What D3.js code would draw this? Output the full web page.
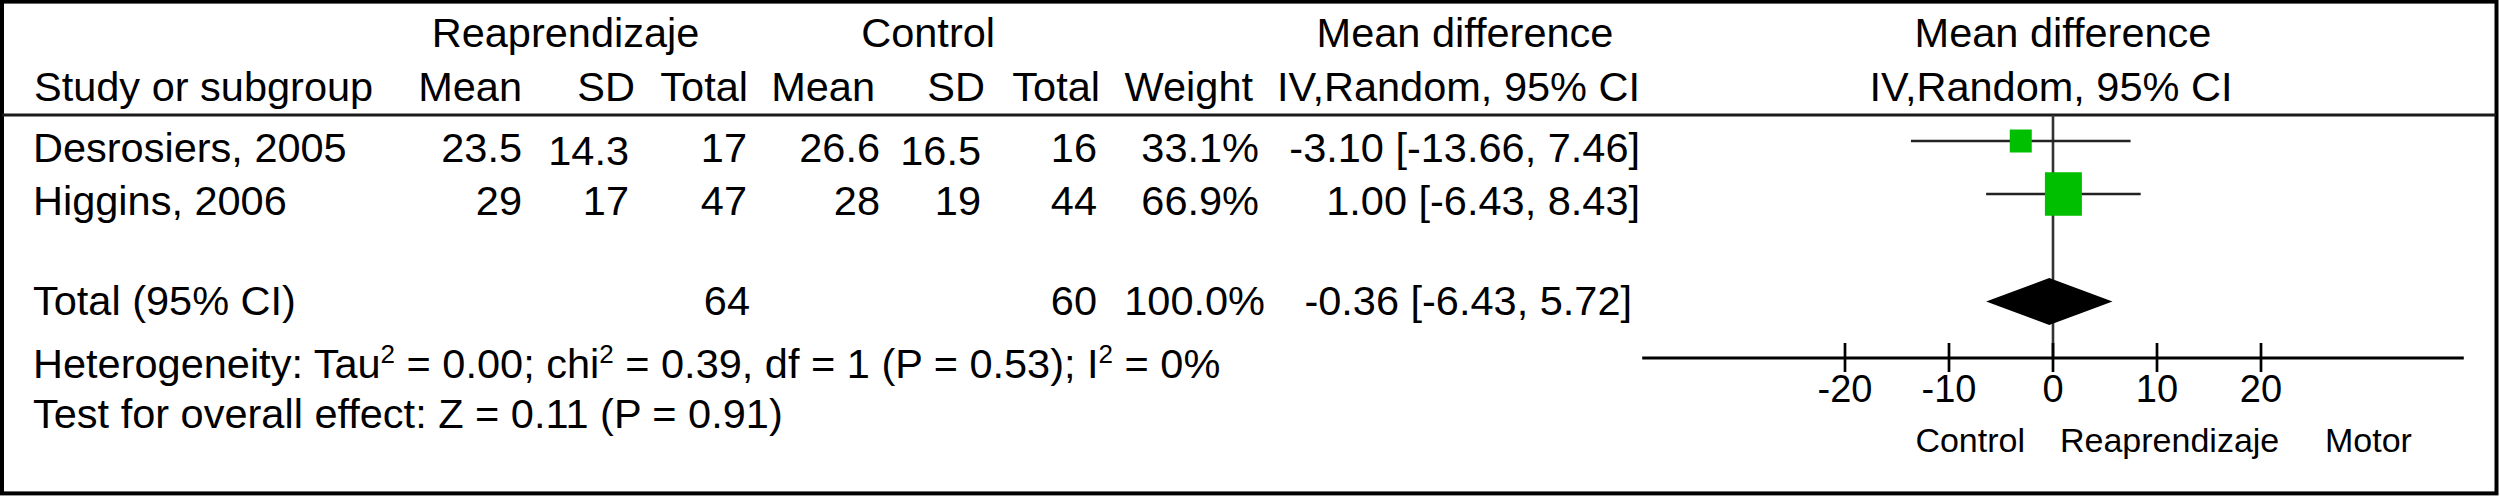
<!DOCTYPE html>
<html><head><meta charset="utf-8">
<script src="https://cdn.jsdelivr.net/npm/d3@7"></script>
<style>
html,body{margin:0;padding:0;background:#fff;}
svg{display:block;}
text{font-family:"Liberation Sans",Arial,Helvetica,sans-serif;fill:#000;}
</style>
</head><body>
<svg id="c" width="2500" height="496"></svg>
<script>
// ---- data ----
const studies   = ["Desrosiers, 2005", "Higgins, 2006"];
const expMean   = [23.5, 29];
const expSD     = [14.3, 17];
const expTotal  = [17, 47];
const ctlMean   = [26.6, 28];
const ctlSD     = [16.5, 19];
const ctlTotal  = [16, 44];
const weights   = [33.1, 66.9];
const md        = [-3.10, 1.00];
const mdLow     = [-13.66, -6.43];
const mdHigh    = [7.46, 8.43];
const totalLabel = "Total (95% CI)";
const totalExp  = [64];
const totalCtl  = [60];
const totalWeight = [100.0];
const totalMD   = [-0.36];
const totalLow  = [-6.43];
const totalHigh = [5.72];
const tickValues = [-20, -10, 0, 10, 20];
const groupHeaders = ["Reaprendizaje", "Control", "Mean difference", "Mean difference"];
const colHeaders = ["Study or subgroup", "Mean", "SD", "Total", "Mean", "SD", "Total", "Weight", "IV,Random, 95% CI", "IV,Random, 95% CI"];
const axisLabels = ["Control", "Reaprendizaje", "Motor"];
const hetParts = [["Heterogeneity: Tau", false], ["2", true], [" = 0.00; chi", false], ["2", true],
  [" = 0.39, df = 1 (P = 0.53); I", false], ["2", true], [" = 0%", false]];
const overallText = "Test for overall effect: Z = 0.11 (P = 0.91)";

// ---- layout ----
const svg = d3.select("#c");
const FS = 41.5;
const f2 = v => v.toFixed(2);
const ciText = (m, l, h) => `${f2(m)} [${f2(l)}, ${f2(h)}]`;

function txt(x, y, s, anchor, size) {
  return svg.append("text").attr("x", x).attr("y", y)
    .attr("text-anchor", anchor || "start")
    .attr("font-size", size || FS).text(s);
}

// outer border
svg.append("rect").attr("x", 2).attr("y", 1.6).attr("width", 2494.5).attr("height", 491.8)
  .attr("fill", "none").attr("stroke", "#000").attr("stroke-width", 4);

// header line
svg.append("line").attr("x1", 2).attr("x2", 2496).attr("y1", 115).attr("y2", 115)
  .attr("stroke", "#1a1a1a").attr("stroke-width", 3);

// header row 1
const h1y = 47;
txt(565.5, h1y, groupHeaders[0], "middle");
txt(995, h1y, groupHeaders[1], "end");
txt(1465, h1y, groupHeaders[2], "middle");
txt(2063, h1y, groupHeaders[3], "middle");

// header row 2
const h2y = 101;
const h2x = [34, 522, 635, 748, 875, 985, 1100, 1253, 1640, 2051];
const h2a = ["start", "end", "end", "end", "end", "end", "end", "end", "end", "middle"];
colHeaders.forEach((s, i) => txt(h2x[i], h2y, s, h2a[i]));

// data rows
const rowY = [162, 215];
const sdDrop = [3, 0];
const colX = {eMean: 522, eSD: 629, eTot: 747, cMean: 880, cSD: 981, cTot: 1097, wt: 1259, ci: 1640};
studies.forEach((s, i) => {
  const y = rowY[i];
  txt(33, y, s, "start");
  txt(colX.eMean, y, String(expMean[i]), "end");
  txt(colX.eSD, y + sdDrop[i], String(expSD[i]), "end");
  txt(colX.eTot, y, String(expTotal[i]), "end");
  txt(colX.cMean, y, String(ctlMean[i]), "end");
  txt(colX.cSD, y + sdDrop[i], String(ctlSD[i]), "end");
  txt(colX.cTot, y, String(ctlTotal[i]), "end");
  txt(colX.wt, y, weights[i].toFixed(1) + "%", "end");
  txt(colX.ci, y, ciText(md[i], mdLow[i], mdHigh[i]), "end");
});

// total row
const totY = 315;
txt(33, totY, totalLabel, "start");
txt(750, totY, String(totalExp[0]), "end");
txt(colX.cTot, totY, String(totalCtl[0]), "end");
txt(1265, totY, totalWeight[0].toFixed(1) + "%", "end");
txt(1632, totY, ciText(totalMD[0], totalLow[0], totalHigh[0]), "end");

// heterogeneity & overall effect
const het = txt(33, 378, "", "start");
hetParts.forEach(([s, sup], i) => {
  const prevSup = i > 0 && hetParts[i - 1][1];
  const t = het.append("tspan").text(s).attr("dy", sup ? -15 : (prevSup ? 15 : 0));
  if (sup) t.attr("font-size", 26);
});
txt(33, 428, overallText, "start");

// ---- forest plot ----
const x = d3.scaleLinear().domain([-40, 40]).range([1637, 2469]);
const wScale = d3.scaleLinear().domain([0, 100]).range([7.3, 51.7]);
const hScale = d3.scaleLinear().domain([0, 100]).range([2.9, 63.6]);
const axisY = 358;
const ciY = rowY.map(y => y - 21);

// zero line
svg.append("line").attr("x1", x(0)).attr("x2", x(0)).attr("y1", 115).attr("y2", axisY)
  .attr("stroke", "#333").attr("stroke-width", 2.6);

// CI lines
svg.selectAll(".ci").data(studies).enter().append("line")
  .attr("x1", (d, i) => x(mdLow[i])).attr("x2", (d, i) => x(mdHigh[i]))
  .attr("y1", (d, i) => ciY[i]).attr("y2", (d, i) => ciY[i])
  .attr("stroke", "#222").attr("stroke-width", 2.7);

// squares
svg.selectAll(".sq").data(studies).enter().append("rect")
  .attr("x", (d, i) => x(md[i]) - wScale(weights[i]) / 2)
  .attr("y", (d, i) => ciY[i] - hScale(weights[i]) / 2)
  .attr("width", (d, i) => wScale(weights[i]))
  .attr("height", (d, i) => hScale(weights[i]))
  .attr("fill", "#00bf00");

// diamond
const dY = 301.5, dH = 23.5;
svg.append("path")
  .attr("d", `M${x(totalLow[0])},${dY} L${x(totalMD[0])},${dY - dH} L${x(totalHigh[0])},${dY} L${x(totalMD[0])},${dY + dH} Z`)
  .attr("fill", "#000");

// axis
svg.append("line").attr("x1", x(-39.5)).attr("x2", x(39.5)).attr("y1", axisY).attr("y2", axisY)
  .attr("stroke", "#000").attr("stroke-width", 3);
svg.selectAll(".tk").data(tickValues).enter().append("line")
  .attr("x1", d => x(d)).attr("x2", d => x(d)).attr("y1", axisY - 15).attr("y2", axisY + 14)
  .attr("stroke", "#000").attr("stroke-width", 2.7);
tickValues.forEach(t => txt(x(t), 402, String(t), "middle", 38));

// axis labels
txt(2025, 452, axisLabels[0], "end", 34);
txt(2060, 452, axisLabels[1], "start", 34);
txt(2325, 452, axisLabels[2], "start", 34);
</script>
</body></html>
